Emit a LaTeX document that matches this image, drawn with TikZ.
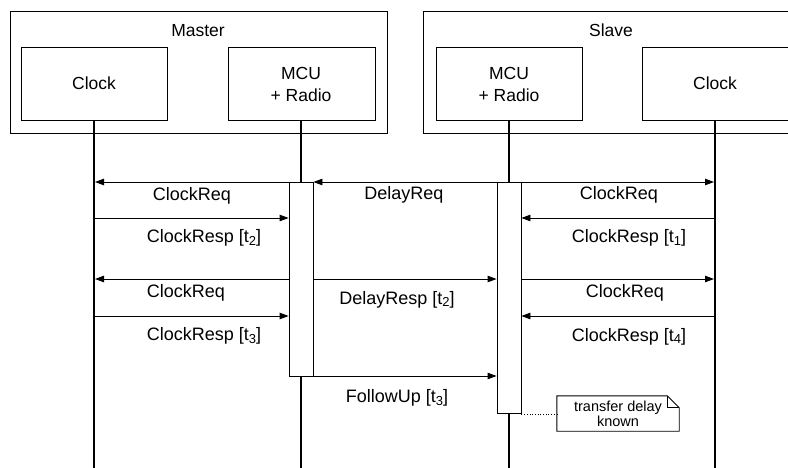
\documentclass[tikz,border=0pt]{standalone}
\usepackage{fontspec}
\setmainfont{Liberation Sans}
\usetikzlibrary{arrows.meta}

\newcommand{\subidx}[1]{\raisebox{-0.3ex}{\fontsize{13}{13}\selectfont #1}}

\begin{document}
\begin{tikzpicture}[x=1pt,y=-1pt,
  box/.style={draw, line width=1pt, fill=white, inner sep=0pt},
  life/.style={line width=2pt},
  act/.style={draw, line width=0.9pt, fill=white, minimum width=24pt, inner sep=0pt, anchor=north},
  msg/.style={line width=0.9pt, -{Triangle[length=9pt,width=6.5pt]}},
  lbl/.style={font=\fontsize{18}{20}\selectfont, inner sep=0pt, anchor=base},
  title/.style={font=\fontsize{17.5}{20}\selectfont, inner sep=0pt, anchor=base, align=center},
  notebox/.style={font=\fontsize{14.5}{15}\selectfont, align=center, inner sep=0pt,
                  minimum width=122pt, minimum height=35pt}]

\useasboundingbox (0,0) rectangle (788,468);
\clip (0,0) rectangle (788,468);

% message rows
\coordinate (r1) at (0,182);
\coordinate (r2) at (0,218);
\coordinate (r3) at (0,279);
\coordinate (r4) at (0,316);
\coordinate (r5) at (0,376);
\coordinate (bot) at (0,470);

% Master device
\node[box, minimum width=377pt, minimum height=122pt, anchor=north west] (master) at (10,11) {};
\node[title] (mastertxt) at (198,36.7) {Master};
\node[box, minimum width=146pt, minimum height=73pt, anchor=north west] (clockM) at (21,47) {};
\node[title] (clockMtxt) at (94,90) {Clock};
\node[box, minimum width=147pt, minimum height=73pt, anchor=north west] (mcuM) at (228,47) {};
\node[title] (mcuMtxt1) at (301,80) {MCU};
\node[title] (mcuMtxt2) at (301,101.7) {+ Radio};

% Slave device
\node[box, minimum width=380pt, minimum height=122pt, anchor=north west] (slave) at (423,11) {};
\node[title] (slavetxt) at (611,36.7) {Slave};
\node[box, minimum width=146pt, minimum height=73pt, anchor=north west] (mcuS) at (436,47) {};
\node[title] (mcuStxt1) at (509,80) {MCU};
\node[title] (mcuStxt2) at (509,101.7) {+ Radio};
\node[box, minimum width=148pt, minimum height=73pt, anchor=north west] (clockS) at (642,47) {};
\node[title] (clockStxt) at (715,90) {Clock};

% lifelines
\coordinate (lM1) at (94,120);
\coordinate (lM2) at (301,120);
\coordinate (lS1) at (508.5,120);
\coordinate (lS2) at (715,120);
\draw[life] (lM1) -- (lM1 |- bot);
\draw[life] (lM2) -- (lM2 |- bot);
\draw[life] (lS1) -- (lS1 |- bot);
\draw[life] (lS2) -- (lS2 |- bot);

% activations
\node[act, minimum height=194pt] (actM) at (301,182) {};
\node[act, minimum height=231pt] (actS) at (509,182) {};

% Master clock exchange
\draw[msg, shorten >=1pt] (actM.west |- r1) -- (lM1 |- r1);
\draw[msg] (lM1 |- r2) -- (actM.west |- r2);
\draw[msg, shorten >=1pt] (actM.west |- r3) -- (lM1 |- r3);
\draw[msg] (lM1 |- r4) -- (actM.west |- r4);
\node[lbl] (l1) at (192,200.7) {ClockReq};
\node[lbl] (l2) at (204,243) {ClockResp [t\subidx{2}]};
\node[lbl] (l3) at (186,298) {ClockReq};
\node[lbl] (l4) at (204,340.7) {ClockResp [t\subidx{3}]};

% radio exchange
\draw[msg] (actS.west |- r1) -- (actM.east |- r1);
\draw[msg] (actM.east |- r3) -- (actS.west |- r3);
\draw[msg] (actM.east |- r5) -- (actS.west |- r5);
\node[lbl] (l5) at (404,200) {DelayReq};
\node[lbl] (l6) at (397,304) {DelayResp [t\subidx{2}]};
\node[lbl] (l7) at (397,402.7) {FollowUp [t\subidx{3}]};

% Slave clock exchange
\draw[msg, shorten >=1pt] (actS.east |- r1) -- (lS2 |- r1);
\draw[msg] (lS2 |- r2) -- (actS.east |- r2);
\draw[msg, shorten >=1pt] (actS.east |- r3) -- (lS2 |- r3);
\draw[msg] (lS2 |- r4) -- (actS.east |- r4);
\node[lbl] (l8) at (619,200) {ClockReq};
\node[lbl] (l9) at (629,243) {ClockResp [t\subidx{1}]};
\node[lbl] (l10) at (625,298) {ClockReq};
\node[lbl] (l11) at (629,341) {ClockResp [t\subidx{4}]};

% note with folded corner
\node[notebox] (note) at (618,413.5) {};
\draw[line width=0.9pt, fill=white]
  (note.north west) -- ([xshift=-12pt]note.north east) -- ([yshift=-12pt]note.north east)
  -- (note.south east) -- (note.south west) -- cycle;
\draw[line width=0.9pt]
  ([xshift=-12pt]note.north east) -- ([xshift=-12pt,yshift=-12pt]note.north east)
  -- ([yshift=-12pt]note.north east);
\node[notebox] (notetxt) at (note.center) {transfer delay\\known};
\draw[dotted, line width=0.7pt] (actS.south east) -- (note.west |- actS.south east);
\end{tikzpicture}
\end{document}
